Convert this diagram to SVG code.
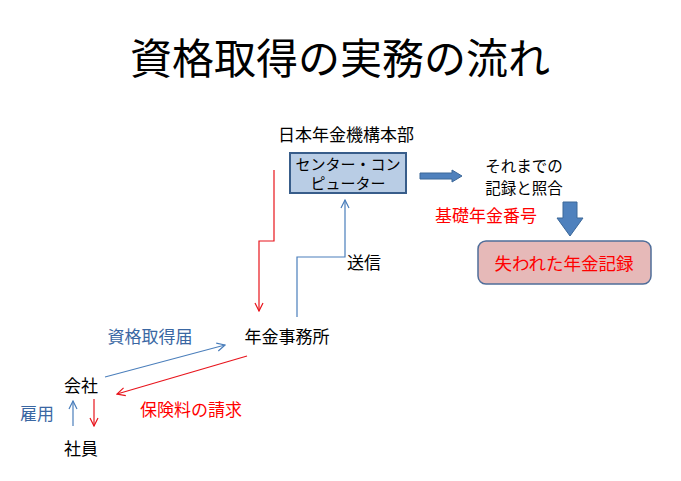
<svg xmlns="http://www.w3.org/2000/svg" width="681" height="481" viewBox="0 0 681 481">
<style>
text{font-family:"Noto Sans CJK JP","Noto Sans CJK SC",sans-serif;}
.t{font-size:17px;fill:#000;text-anchor:middle;}
.r{font-size:17px;fill:#ff0000;text-anchor:middle;}
.b{font-size:17px;fill:#3a67a3;text-anchor:middle;}
.lb{fill:none;stroke:#4a7ebb;stroke-width:1.2;}
.lr{fill:none;stroke:#e8141c;stroke-width:1.2;}
.blk{fill:#4f81bd;stroke:#3c6899;stroke-width:1;}
</style>
<defs>
<marker id="ab" markerWidth="10" markerHeight="10" refX="9" refY="5" orient="auto" markerUnits="userSpaceOnUse"><path d="M1,1 L9,5 L1,9" fill="none" stroke="#4a7ebb" stroke-width="1.2"/></marker>
<marker id="ar" markerWidth="10" markerHeight="10" refX="9" refY="5" orient="auto" markerUnits="userSpaceOnUse"><path d="M1,1 L9,5 L1,9" fill="none" stroke="#e8141c" stroke-width="1.2"/></marker>
</defs>
<rect width="681" height="481" fill="#fff"/>
<text x="340" y="74" style="font-size:42px;text-anchor:middle;fill:#000">資格取得の実務の流れ</text>

<g id="connectors">
<path class="lr" d="M274,170 V241 H259 V311" marker-end="url(#ar)"/>
<path class="lb" d="M297,317 V257 H345 V200" marker-end="url(#ab)"/>
<path class="lb" d="M105,377 L225,345" marker-end="url(#ab)"/>
<path class="lr" d="M247,356 L117,394" marker-end="url(#ar)"/>
<path class="lb" d="M73,426 V401" marker-end="url(#ab)"/>
<path class="lr" d="M94,399 V426" marker-end="url(#ar)"/>
<path class="blk" d="M420,173 H452 V170 L462,176 L452,182 V179 H420 Z"/>
<path class="blk" d="M563,202 H577 V218 H583 L570,236 L557,218 H563 Z"/>
</g>

<g id="hq"><text class="t" x="346" y="141">日本年金機構本部</text></g>
<g id="computer">
<rect x="290" y="153" width="116" height="40" fill="#b9cde5" stroke="#385d8a" stroke-width="2"/>
<text x="348" y="170" style="font-size:15px;text-anchor:middle;fill:#000">センター・コン</text>
<text x="348" y="189" style="font-size:15px;text-anchor:middle;fill:#000">ピューター</text>
</g>
<g id="check">
<text x="524" y="172" style="font-size:15.5px;text-anchor:middle;fill:#000">それまでの</text>
<text x="524" y="194" style="font-size:15.5px;text-anchor:middle;fill:#000">記録と照合</text>
</g>
<g id="number"><text class="r" x="486" y="222">基礎年金番号</text></g>
<g id="lost">
<rect x="478" y="241" width="173" height="43" rx="8" fill="#e6b9b8" stroke="#4f6d99" stroke-width="1.5"/>
<text class="r" x="564" y="270" style="font-size:17.5px">失われた年金記録</text>
</g>
<g id="send"><text class="t" x="364" y="269">送信</text></g>
<g id="office"><text class="t" x="287" y="343">年金事務所</text></g>
<g id="form"><text class="b" x="150" y="343">資格取得届</text></g>
<g id="company"><text class="t" x="81" y="392">会社</text></g>
<g id="premium"><text class="r" x="191" y="416">保険料の請求</text></g>
<g id="hire"><text class="b" x="37" y="420">雇用</text></g>
<g id="employee"><text class="t" x="81" y="455">社員</text></g>
</svg>
